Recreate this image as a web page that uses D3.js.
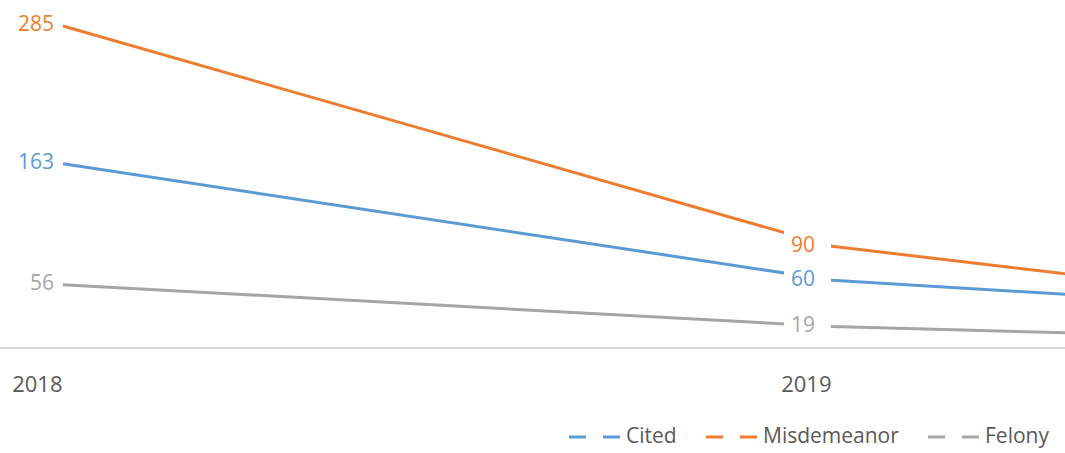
<!DOCTYPE html>
<html>
<head>
<meta charset="utf-8">
<script src="https://cdn.jsdelivr.net/npm/d3@7"></script>
<style>
  html, body { margin: 0; padding: 0; background: #fff; overflow: hidden; }
  svg { display: block; font-family: "Open Sans", sans-serif; }
</style>
</head>
<body>
<svg id="chart" width="1065" height="453"></svg>
<script>
const years = ["2018", "2019", "2020"];
const cited = [163, 60, 19];
const misdemeanor = [285, 90, 10];
const felony = [56, 19, 1];
const seriesNames = ["Cited", "Misdemeanor", "Felony"];
const seriesColors = ["#5B9BD5", "#ED7D31", "#A5A5A5"];
const labelledYears = ["2018", "2019"];

const W = 1065, H = 453;
const svg = d3.select("#chart");

const x = d3.scalePoint().domain(years).range([63, 1601]);
const y = d3.scaleLinear().domain([0, 285]).range([348, 26]);

const series = [
  { name: seriesNames[0], color: seriesColors[0], values: cited },
  { name: seriesNames[1], color: seriesColors[1], values: misdemeanor },
  { name: seriesNames[2], color: seriesColors[2], values: felony }
];

// baseline
svg.append("line")
  .attr("x1", 0).attr("x2", W)
  .attr("y1", y(0)).attr("y2", y(0))
  .attr("stroke", "#D9D9D9").attr("stroke-width", 2);

// category axis labels (right-aligned at each visible point)
const axis = d3.axisBottom(x).tickValues(labelledYears).tickSize(0).tickPadding(0);
const gAxis = svg.append("g").attr("transform", `translate(0,${y(0)})`).call(axis);
gAxis.select(".domain").remove();
gAxis.selectAll("text")
  .attr("text-anchor", "end")
  .attr("dx", "-1")
  .attr("y", 44)
  .attr("dy", 0)
  .attr("fill", "#595959")
  .style("font-size", "22px")
  .style("font-family", "'Open Sans', sans-serif");

// lines
const line = d3.line().x((d, i) => x(years[i])).y(d => y(d));
svg.append("g").selectAll("path").data(series).join("path")
  .attr("d", s => line(s.values))
  .attr("fill", "none")
  .attr("stroke", s => s.color)
  .attr("stroke-width", 3)
  .attr("stroke-linejoin", "round");

// data labels with white boxes
const labels = [];
series.forEach(s => {
  labelledYears.forEach(yr => {
    const i = years.indexOf(yr);
    labels.push({ color: s.color, year: yr, value: s.values[i] });
  });
});
const gLab = svg.append("g");
labels.forEach(l => {
  const px = x(l.year), py = y(l.value);
  const offset = l.year === "2018" ? 9 : 17;
  const g = gLab.append("g");
  const rect = g.append("rect").attr("fill", "#fff");
  const t = g.append("text")
    .attr("x", px - offset)
    .attr("y", py - 2)
    .attr("dy", "0.35em")
    .attr("text-anchor", "end")
    .attr("fill", l.color)
    .style("font-size", "21px")
    .text(l.value);
  const bb = t.node().getBBox();
  rect.attr("x", bb.x - 7).attr("y", bb.y)
      .attr("width", (px - 1) - (bb.x - 7)).attr("height", bb.height);
});

// legend
const legendItems = [
  { name: seriesNames[0], color: seriesColors[0], x0: 569 },
  { name: seriesNames[1], color: seriesColors[1], x0: 706 },
  { name: seriesNames[2], color: seriesColors[2], x0: 928 }
];
const gLeg = svg.append("g");
legendItems.forEach(it => {
  gLeg.append("line")
    .attr("x1", it.x0).attr("x2", it.x0 + 53)
    .attr("y1", 437).attr("y2", 437)
    .attr("stroke", it.color).attr("stroke-width", 3)
    .attr("stroke-dasharray", "17,17");
  gLeg.append("text")
    .attr("x", it.x0 + 57).attr("y", 443)
    .attr("fill", "#595959")
    .style("font-size", "21px")
    .text(it.name);
});
</script>
</body>
</html>
